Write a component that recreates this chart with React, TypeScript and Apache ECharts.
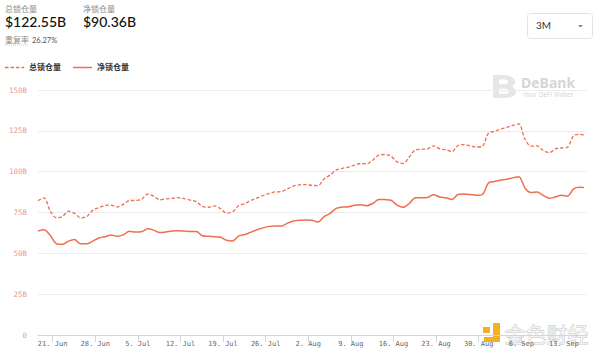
import React, { useEffect, useRef } from "react";
import * as echarts from "echarts";

// Day offsets are relative to 21 Jun; the first sample is on 18 Jun (afternoon)
const FIRST_DAY = -2.4;
const NOW_DAY = 87.3;
const tickDays = [0, 7, 14, 21, 28, 35, 42, 49, 56, 63, 70, 77, 84];
const tickLabels = ["21. Jun", "28. Jun", "5. Jul", "12. Jul", "19. Jul", "26. Jul", "2. Aug", "9. Aug", "16. Aug", "23. Aug", "30. Aug", "6. Sep", "13. Sep"];

const totalTVL = [
  82.2, 84, 76, 71.8, 72.5, 75.8, 74.5, 71.7, 72.5, 76.3,
  78, 79.3, 79.5, 78.4, 80, 82.3, 82.4, 83, 86.2, 85,
  82.8, 83.3, 83.6, 84.1, 83.5, 82.6, 81.7, 78.7, 78.2, 79,
  77.3, 74.6, 75.5, 79.3, 80.5, 82.5, 83.8, 85.4, 86.7, 87.6,
  87.8, 89.5, 91.3, 91.9, 92.1, 91.6, 91.5, 95.5, 98, 101,
  102, 102.8, 104, 105, 104.8, 107, 110.2, 110.5, 109.5, 106,
  105, 109, 113.3, 113.7, 114, 115.8, 114, 113.5, 112.3, 116,
  116.6, 115.8, 115.1, 115.5, 123.5, 124.7, 126, 127.1, 128.3, 129.2,
  120, 115.6, 115.8, 113, 111.6, 114, 114.5, 115, 122, 122.9,
  122.55,
];
const netTVL = [
  63.7, 64.5, 61, 56, 55.5, 57.5, 58.5, 55.8, 55.8, 57.5,
  59.4, 60.2, 61.2, 60.5, 61.3, 63.5, 63, 63.2, 65, 64.2,
  62.7, 63.1, 63.6, 63.9, 63.6, 63.3, 63.3, 60.8, 60.4, 60.2,
  59.8, 58, 57.6, 60.7, 61.5, 63, 64.4, 65.6, 66.5, 66.8,
  66.8, 68.5, 69.8, 70.3, 70.4, 70.2, 69.2, 72.5, 74.5, 77.5,
  78.3, 78.5, 79.5, 79.8, 79.2, 80.5, 83, 82.9, 82.5, 79.5,
  78.2, 80.5, 84, 84, 84.2, 85.8, 84.5, 84, 83, 86,
  86.3, 86, 85.6, 86, 93, 94, 94.8, 95.4, 96.2, 96.9,
  90, 87.2, 87.5, 85.5, 83.7, 84.5, 85.5, 85, 89.5, 90.4,
  90.36,
];

const seriesNames = ["总锁仓量", "净锁仓量"];
const headline = { total: "$122.55B", net: "$90.36B", ratioLabel: "重复率", ratio: "26.27%" };

const LINE_COLOR = "#ef6e4f";

function dayOf(i: number, n: number) {
  return i === n - 1 ? NOW_DAY : FIRST_DAY + i;
}

export default function App() {
  const ref = useRef<HTMLDivElement>(null);
  useEffect(() => {
    if (!ref.current) return;
    echarts.graphic.registerShape(
      "debankLogo",
      echarts.graphic.extendPath(
        "M0 0 H10 C18 0 22 5 22 10 C22 13 20 15 18 16 C21 17 23 20 23 23 C23 28 19 32 11 32 H0 Z M6 6 V13 H10 C13 13 15 12 15 9.5 C15 7 13 6 10 6 Z M6 19 V26 H11 C14 26 16 25 16 22.5 C16 20 14 19 11 19 Z",
        {}
      )
    );
    const chart = echarts.init(ref.current, undefined, { renderer: "svg" });
    const mk = (arr: number[]) => arr.map((v, i) => [dayOf(i, arr.length), v]);
    const legendText = { fontSize: 8, fontWeight: "bold", fill: "#333", fontFamily: "Noto Sans CJK SC" };
    chart.setOption({
      animation: false,
      grid: { left: 38, right: 13, top: 90, bottom: 20, containLabel: false },
      xAxis: {
        type: "value",
        min: FIRST_DAY,
        max: 87.8,
        axisLine: { show: true, lineStyle: { color: "#ccd6eb", width: 1 } },
        axisTick: { show: true, customValues: tickDays, length: 7, lineStyle: { color: "#ccd6eb" } },
        axisLabel: {
          customValues: tickDays,
          formatter: (v: number) => {
            const k = tickDays.indexOf(Math.round(v));
            return k >= 0 ? tickLabels[k] : "";
          },
          fontSize: 7,
          color: "#666",
          fontFamily: "DejaVu Sans Mono",
          margin: 5,
        },
        splitLine: { show: false },
      },
      yAxis: {
        type: "value",
        min: 0,
        max: 150,
        interval: 25,
        axisLine: { show: false },
        axisTick: { show: false },
        axisLabel: {
          formatter: (v: number) => (v === 0 ? "0" : v + "B"),
          fontSize: 7.5,
          color: "#eb9a94",
          fontFamily: "DejaVu Sans Mono",
          margin: 11,
        },
        splitLine: { lineStyle: { color: "#ececec", width: 1 } },
      },
      series: [
        {
          name: seriesNames[0],
          type: "line",
          data: mk(totalTVL),
          showSymbol: false,
          symbol: "none",
          smooth: 0.3,
          lineStyle: { color: LINE_COLOR, width: 1.3, type: [3.5, 2] },
          itemStyle: { color: LINE_COLOR },
        },
        {
          name: seriesNames[1],
          type: "line",
          data: mk(netTVL),
          showSymbol: false,
          symbol: "none",
          smooth: 0.3,
          lineStyle: { color: LINE_COLOR, width: 1.5 },
          itemStyle: { color: LINE_COLOR },
        },
      ],
      graphic: [
        // header
        { type: "text", left: 5, top: 4, style: { text: seriesNames[0], fontSize: 8, fill: "#8a8a8a", fontFamily: "Noto Sans CJK SC" } },
        { type: "text", left: 5, top: 14, style: { text: headline.total, fontSize: 14, fill: "#111", fontFamily: "Lato", fontWeight: 500 } },
        { type: "text", left: 83, top: 4, style: { text: seriesNames[1], fontSize: 8, fill: "#8a8a8a", fontFamily: "Noto Sans CJK SC" } },
        { type: "text", left: 83, top: 14, style: { text: headline.net, fontSize: 14, fill: "#111", fontFamily: "Lato", fontWeight: 500 } },
        { type: "text", left: 5, top: 35, style: { text: headline.ratioLabel, fontSize: 8, fill: "#8a8a8a", fontFamily: "Noto Sans CJK SC" } },
        { type: "line", shape: { x1: 5, y1: 45, x2: 29, y2: 45 }, style: { stroke: "#bbb", lineWidth: 0.8, lineDash: [1, 1] } },
        { type: "text", left: 32, top: 36, style: { text: headline.ratio, fontSize: 7.5, fill: "#555", fontFamily: "Lato" } },
        // legend
        { type: "line", shape: { x1: 5, y1: 67.5, x2: 24, y2: 67.5 }, style: { stroke: LINE_COLOR, lineWidth: 1.3, lineDash: [3.5, 2] } },
        { type: "text", left: 29, top: 62, style: { text: seriesNames[0], ...legendText } },
        { type: "line", shape: { x1: 73, y1: 67.5, x2: 92, y2: 67.5 }, style: { stroke: LINE_COLOR, lineWidth: 1.5 } },
        { type: "text", left: 97, top: 62, style: { text: seriesNames[1], ...legendText } },
        // period selector
        { type: "rect", shape: { x: 527.5, y: 13.5, width: 65, height: 25, r: 3 }, style: { fill: "#fff", stroke: "#e3e3e3", lineWidth: 1 } },
        { type: "text", left: 536, top: 20, style: { text: "3M", fontSize: 10, fill: "#333", fontFamily: "Lato" } },
        { type: "polygon", shape: { points: [[578, 25], [583, 25], [580.5, 27.5]] }, style: { fill: "#888" } },
        // DeBank watermark
        { type: "debankLogo", x: 493, y: 75, scaleX: 1.0, scaleY: 0.72, style: { fill: "#e6e6e6" } },
        { type: "text", left: 521, top: 75, style: { text: "DeBank", fontSize: 14, fontWeight: "bold", fill: "#d6d6d6", fontFamily: "Noto Sans" } },
        { type: "text", left: 523, top: 91, style: { text: "Your DeFi Wallet", fontSize: 6.5, fill: "#d6d6d6", fontFamily: "Noto Sans" } },
        // 金色财经 watermark
        { type: "rect", shape: { x: 483, y: 327, width: 7, height: 6 }, style: { fill: "#f5b01f" } },
        { type: "polygon", shape: { points: [[493, 323], [500, 323], [500, 342], [484, 342], [484, 337], [493, 337]] }, style: { fill: "#f5b01f" } },
        { type: "text", left: 504, top: 322, style: { text: "金色财经", fontSize: 21, fill: "rgba(255,255,255,0.6)", stroke: "#c8c8c8", lineWidth: 0.8, fontFamily: "Noto Sans CJK SC" } },
      ],
    });
    return () => chart.dispose();
  }, []);
  return <div ref={ref} style={{ width: 600, height: 355, position: "absolute", left: 0, top: 0 }} />;
}
